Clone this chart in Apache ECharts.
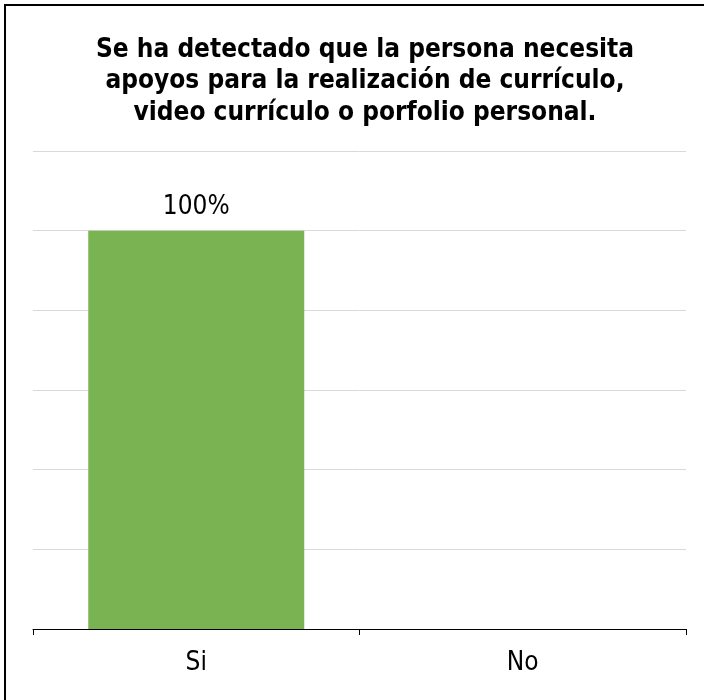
<!DOCTYPE html>
<html>
<head>
	<meta charset="utf-8">
	<title>apoyos curriculo</title>
	<style type="text/css">
		html, body { margin: 0; padding: 0; background: #fff; }
		#frame {
			position: absolute; left: 4px; top: 4px; width: 700px; height: 696px;
			border-left: 2px solid #000; border-top: 2px solid #000; box-sizing: border-box;
		}
		#chart { position: absolute; left: 0; top: 0; width: 704px; height: 700px; }
	</style>
</head>
<body>
	<div id="frame"></div>
	<div id="chart"></div>
	<script src="https://cdn.jsdelivr.net/npm/echarts@6/dist/echarts.min.js"></script>
	<script type="text/javascript">
	const CATEGORIES = ['Si', 'No'];
	const VALUES = [100, null];
	const TITLE_LINES = [
		'Se ha detectado que la persona necesita',
		'apoyos para la realización de currículo,',
		'video currículo o porfolio personal.'
	];

	const FONT = '"DejaVu Sans Condensed", "DejaVu Sans", sans-serif';

	var myChart = echarts.init(document.getElementById('chart'));

	var option = {
		animation: false,
		title: {
			text: TITLE_LINES.join('\n'),
			left: 365,
			top: 34,
			textAlign: 'center',
			padding: 0,
			textStyle: {
				fontFamily: FONT,
				fontWeight: 'bold',
				fontSize: 26,
				color: '#000',
				lineHeight: 31.5
			}
		},
		grid: { left: 33, right: 18, top: 151, bottom: 71, containLabel: false },
		xAxis: {
			type: 'category',
			data: CATEGORIES,
			axisLine: { lineStyle: { color: '#000', width: 1 } },
			axisTick: { show: true, length: 6, lineStyle: { color: '#000' } },
			axisLabel: { color: '#000', fontSize: 26, fontFamily: FONT, margin: 21 }
		},
		yAxis: {
			type: 'value',
			min: 0,
			max: 120,
			interval: 20,
			axisLabel: { show: false },
			axisLine: { show: false },
			axisTick: { show: false },
			splitLine: { lineStyle: { color: '#d9d9d9', width: 1 } }
		},
		series: [{
			type: 'bar',
			data: VALUES,
			barWidth: 216,
			itemStyle: { color: '#7ab351' },
			label: {
				show: true,
				position: 'top',
				distance: 10,
				formatter: '{c}%',
				color: '#000',
				fontSize: 26,
				fontFamily: FONT
			}
		}]
	};

	myChart.setOption(option);
	</script>
</body>
</html>
